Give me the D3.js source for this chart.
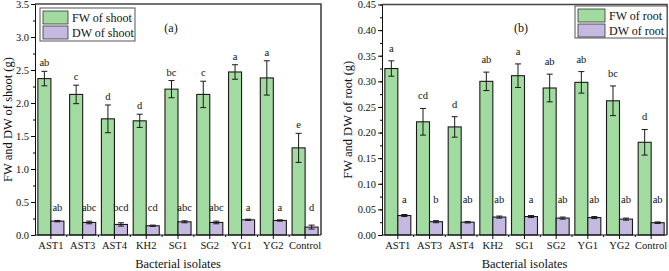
<!DOCTYPE html>
<html>
<head>
<meta charset="utf-8">
<script src="https://cdn.jsdelivr.net/npm/d3@7"></script>
<style>
  body { margin: 0; background: #fff; }
</style>
</head>
<body>
<svg id="chart" width="669" height="271" font-family="Liberation Serif, Times New Roman, serif"></svg>
<script>
// categorias
const isolates = ["AST1", "AST3", "AST4", "KH2", "SG1", "SG2", "YG1", "YG2", "Control"];

// panel (a) - shoot
const fwShoot = [2.37, 2.13, 1.76, 1.73, 2.21, 2.13, 2.47, 2.38, 1.32];
const fwShootErr = [0.11, 0.14, 0.21, 0.10, 0.13, 0.20, 0.11, 0.26, 0.22];
const fwShootLetters = ["ab", "c", "d", "d", "bc", "c", "a", "a", "e"];
const dwShoot = [0.21, 0.19, 0.16, 0.14, 0.20, 0.19, 0.23, 0.22, 0.12];
const dwShootErr = [0.01, 0.02, 0.025, 0.01, 0.015, 0.02, 0.01, 0.01, 0.03];
const dwShootLetters = ["ab", "abc", "bcd", "cd", "abc", "abc", "a", "a", "d"];
const shootTicks = [0, 0.5, 1.0, 1.5, 2.0, 2.5, 3.0, 3.5];

// panel (b) - root
const fwRoot = [0.325, 0.221, 0.211, 0.300, 0.311, 0.287, 0.298, 0.262, 0.181];
const fwRootErr = [0.015, 0.026, 0.02, 0.018, 0.023, 0.027, 0.021, 0.029, 0.025];
const fwRootLetters = ["a", "cd", "d", "ab", "a", "ab", "ab", "bc", "d"];
const dwRoot = [0.038, 0.026, 0.025, 0.035, 0.036, 0.033, 0.034, 0.031, 0.024];
const dwRootErr = [0.002, 0.002, 0.0015, 0.002, 0.002, 0.002, 0.002, 0.002, 0.0015];
const dwRootLetters = ["a", "b", "ab", "ab", "a", "ab", "ab", "ab", "ab"];
const rootTicks = [0, 0.05, 0.10, 0.15, 0.20, 0.25, 0.30, 0.35, 0.40, 0.45];

const GREEN = "#a2dba0";
const PURPLE = "#c6b9e1";
const FONT = "Liberation Serif, Times New Roman, serif";

const svg = d3.select("#chart");

function drawPanel(opt) {
  const g = svg.append("g").attr("font-family", FONT);
  const [x0, x1] = opt.xRange;
  const [yBottom, yTop] = opt.yRange;

  const x = d3.scaleBand()
    .domain(isolates)
    .range([x0, x1])
    .paddingInner(0.18)
    .paddingOuter(0.09);

  const sub = d3.scaleBand()
    .domain(["FW", "DW"])
    .range([0, x.bandwidth()]);

  const y = d3.scaleLinear()
    .domain(opt.yDomain)
    .range([yBottom, yTop]);

  const rows = isolates.map((c, i) => ({
    cat: c,
    fw: opt.fw[i], fwErr: opt.fwErr[i], fwLab: opt.fwLetters[i],
    dw: opt.dw[i], dwErr: opt.dwErr[i], dwLab: opt.dwLetters[i]
  }));

  // barras
  const series = [
    { key: "FW", val: d => d.fw, err: d => d.fwErr, color: GREEN },
    { key: "DW", val: d => d.dw, err: d => d.dwErr, color: PURPLE }
  ];

  series.forEach(s => {
    g.selectAll(null)
      .data(rows)
      .join("rect")
      .attr("x", d => x(d.cat) + sub(s.key))
      .attr("y", d => y(s.val(d)))
      .attr("width", sub.bandwidth())
      .attr("height", d => y(0) - y(s.val(d)))
      .attr("fill", s.color)
      .attr("stroke", "#1a1a1a")
      .attr("stroke-width", 1.1);

    // barras de error
    const cx = d => x(d.cat) + sub(s.key) + sub.bandwidth() / 2;
    const eb = g.selectAll(null).data(rows).join("g").attr("stroke", "#1a1a1a").attr("stroke-width", 1);
    eb.append("line")
      .attr("x1", cx).attr("x2", cx)
      .attr("y1", d => y(s.val(d) + s.err(d)))
      .attr("y2", d => y(s.val(d) - s.err(d)));
    [1, -1].forEach(sign => {
      eb.append("line")
        .attr("x1", d => cx(d) - 3).attr("x2", d => cx(d) + 3)
        .attr("y1", d => y(s.val(d) + sign * s.err(d)))
        .attr("y2", d => y(s.val(d) + sign * s.err(d)));
    });
  });

  // letras de significancia
  g.selectAll(null)
    .data(rows)
    .join("text")
    .attr("x", d => x(d.cat) + sub("FW") + sub.bandwidth() / 2)
    .attr("y", d => y(d.fw + d.fwErr) - opt.letterGap)
    .attr("text-anchor", "middle")
    .attr("font-size", 10.5)
    .attr("fill", "#111")
    .text(d => d.fwLab);

  g.selectAll(null)
    .data(rows)
    .join("text")
    .attr("x", d => x(d.cat) + sub("DW") + sub.bandwidth() / 2)
    .attr("y", y(opt.dwLetterY))
    .attr("text-anchor", "middle")
    .attr("font-size", 10.5)
    .attr("fill", "#111")
    .text(d => d.dwLab);

  // marco superior y derecho
  g.append("path")
    .attr("d", `M${x0},${yTop}H${x1}V${yBottom}`)
    .attr("fill", "none")
    .attr("stroke", "#444")
    .attr("stroke-width", 1.6);

  // Ejes
  const yAxis = g.append("g")
    .attr("transform", `translate(${x0},0)`)
    .call(d3.axisLeft(y).tickValues(opt.ticks).tickFormat(d3.format(opt.fmt)).tickSize(4).tickPadding(2).tickSizeOuter(0));

  const minor = d3.range(opt.yDomain[0], opt.yDomain[1] + 1e-9, opt.minorStep);
  g.append("g")
    .attr("transform", `translate(${x0},0)`)
    .call(d3.axisLeft(y).tickValues(minor).tickFormat("").tickSize(2).tickSizeOuter(0))
    .call(a => a.select(".domain").remove());

  const xCenter = d3.scaleOrdinal()
    .domain(isolates)
    .range(isolates.map(c => x(c) + x.bandwidth() / 2));
  const xAxis = g.append("g")
    .attr("transform", `translate(0,${yBottom})`);
  xAxis.append("line")
    .attr("x1", x0).attr("x2", x1)
    .attr("stroke", "#111");
  xAxis.selectAll(".maj")
    .data(isolates)
    .join("line")
    .attr("x1", c => xCenter(c)).attr("x2", c => xCenter(c))
    .attr("y1", 0).attr("y2", 4)
    .attr("stroke", "#111");
  xAxis.selectAll(".min")
    .data(isolates.slice(1))
    .join("line")
    .attr("x1", c => xCenter(c) - x.step() / 2).attr("x2", c => xCenter(c) - x.step() / 2)
    .attr("y1", 0).attr("y2", 2)
    .attr("stroke", "#111");
  xAxis.selectAll("text")
    .data(isolates)
    .join("text")
    .attr("x", c => xCenter(c))
    .attr("y", 14)
    .attr("text-anchor", "middle")
    .attr("font-size", 10.5)
    .attr("fill", "#111")
    .text(c => c);

  yAxis.attr("font-family", FONT);
  yAxis.select(".domain").attr("stroke", "#111");
  yAxis.selectAll(".tick line").attr("stroke", "#111");
  yAxis.selectAll(".tick text")
    .attr("font-size", 10.5)
    .attr("fill", "#111");

  // titulos
  g.append("text")
    .attr("x", (x0 + x1) / 2)
    .attr("y", 268)
    .attr("text-anchor", "middle")
    .attr("font-size", 12.5)
    .attr("fill", "#111")
    .text("Bacterial isolates");

  g.append("text")
    .attr("transform", `translate(${opt.yTitleX},${(yTop + yBottom) / 2}) rotate(-90)`)
    .attr("text-anchor", "middle")
    .attr("font-size", 12.5)
    .attr("fill", "#111")
    .text(opt.yTitle);

  g.append("text")
    .attr("x", opt.tag[0])
    .attr("y", opt.tag[1])
    .attr("text-anchor", "middle")
    .attr("font-size", 12)
    .attr("fill", "#111")
    .text(opt.tagText);

  // leyenda
  const [lx, ly, lw, lh] = opt.legend;
  const leg = g.append("g");
  leg.append("rect")
    .attr("x", lx).attr("y", ly).attr("width", lw).attr("height", lh)
    .attr("fill", "#fff").attr("stroke", "#555").attr("stroke-width", 1);
  opt.legendLabels.forEach((lab, i) => {
    leg.append("rect")
      .attr("x", lx + 3).attr("y", ly + 3 + i * 15)
      .attr("width", opt.swatchW).attr("height", 13)
      .attr("fill", i === 0 ? GREEN : PURPLE)
      .attr("stroke", "#333").attr("stroke-width", 0.8);
    leg.append("text")
      .attr("x", lx + opt.swatchW + 7)
      .attr("y", ly + 14 + i * 15)
      .attr("font-size", 12)
      .attr("fill", "#111")
      .text(lab);
  });
}

drawPanel({
  xRange: [35, 321], yRange: [235, 4], yDomain: [0, 3.5],
  fw: fwShoot, fwErr: fwShootErr, fwLetters: fwShootLetters,
  dw: dwShoot, dwErr: dwShootErr, dwLetters: dwShootLetters,
  ticks: shootTicks, fmt: ".1f", minorStep: 0.25,
  letterGap: 5, dwLetterY: 0.37,
  yTitle: "FW and DW of shoot (g)", yTitleX: 12,
  tag: [171, 32], tagText: "(a)",
  legend: [40, 8, 95, 33], swatchW: 25,
  legendLabels: ["FW of shoot", "DW of shoot"]
});

drawPanel({
  xRange: [382, 667], yRange: [235, 4.5], yDomain: [0, 0.45],
  fw: fwRoot, fwErr: fwRootErr, fwLetters: fwRootLetters,
  dw: dwRoot, dwErr: dwRootErr, dwLetters: dwRootLetters,
  ticks: rootTicks, fmt: ".2f", minorStep: 0.025,
  letterGap: 9, dwLetterY: 0.062,
  yTitle: "FW and DW of root (g)", yTitleX: 352,
  tag: [521, 32], tagText: "(b)",
  legend: [575, 6, 92, 32], swatchW: 27,
  legendLabels: ["FW of root", "DW of root"]
});
</script>
</body>
</html>
